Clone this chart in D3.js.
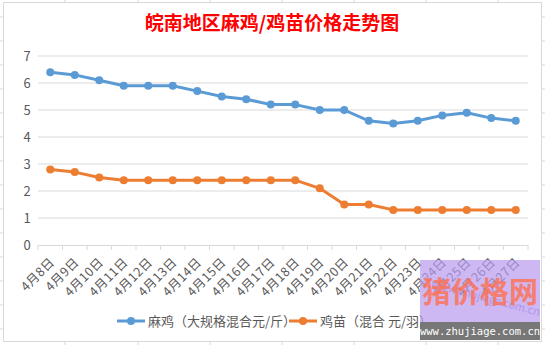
<!DOCTYPE html>
<html><head><meta charset="utf-8">
<script src="https://cdn.jsdelivr.net/npm/d3@7"></script>
<style>
body{margin:0;background:#fff;}
svg{display:block;}
</style></head>
<body>
<svg id="c" width="545" height="345"></svg>
<script>
const categories = ["4月8日","4月9日","4月10日","4月11日","4月12日","4月13日","4月14日","4月15日","4月16日","4月17日","4月18日","4月19日","4月20日","4月21日","4月22日","4月23日","4月24日","4月25日","4月26日","4月27日"];
const majiValues = [6.4,6.3,6.1,5.9,5.9,5.9,5.7,5.5,5.4,5.2,5.2,5.0,5.0,4.6,4.5,4.6,4.8,4.9,4.7,4.6];
const jimiaoValues = [2.8,2.7,2.5,2.4,2.4,2.4,2.4,2.4,2.4,2.4,2.4,2.1,1.5,1.5,1.3,1.3,1.3,1.3,1.3,1.3];
const seriesNames = ["麻鸡（大规格混合元/斤）","鸡苗（混合 元/羽）"];
const yTicks = [0,1,2,3,4,5,6,7];
const title = "皖南地区麻鸡/鸡苗价格走势图";

const svg = d3.select("#c");
const font = "'Noto Sans CJK SC','Liberation Sans',sans-serif";
const colors = ["#5B9BD5","#ED7D31"];
const grey = "#D9D9D9";

// spreadsheet background ticks
const cols = [65,138,210,282,354,426,498];
const rows = [17,41,65,89,113,137,161,185,209,233,257,281,305,329];
cols.forEach(x=>{
  svg.append("line").attr("x1",x).attr("x2",x).attr("y1",0).attr("y2",2).attr("stroke",grey);
  svg.append("line").attr("x1",x).attr("x2",x).attr("y1",342).attr("y2",345).attr("stroke",grey);
});
rows.forEach(y=>{
  svg.append("line").attr("x1",0).attr("x2",3).attr("y1",y).attr("y2",y).attr("stroke",grey);
  svg.append("line").attr("x1",542).attr("x2",545).attr("y1",y).attr("y2",y).attr("stroke",grey);
});
// chart frame
svg.append("rect").attr("x",3.5).attr("y",2.5).attr("width",538).attr("height",339)
  .attr("fill","#fff").attr("stroke",grey);

// title
svg.append("text").attr("x",272).attr("y",30).attr("text-anchor","middle")
  .attr("font-family",font).attr("font-size",19).attr("font-weight","bold")
  .attr("fill","#FF0000").text(title);

const x = d3.scaleBand().domain(categories).range([38,528]);
const y = d3.scaleLinear().domain([0,7]).range([245,56]);

// grid
const g = svg.append("g");
g.selectAll(".grid").data(yTicks.filter(d=>d>0)).join("line")
  .attr("x1",38).attr("x2",528).attr("y1",d=>y(d)).attr("y2",d=>y(d))
  .attr("stroke",grey).attr("stroke-width",1);

// y labels
g.selectAll(".yl").data(yTicks).join("text")
  .attr("x",27).attr("y",d=>y(d)+5).attr("text-anchor","middle")
  .attr("font-family",font).attr("font-size",13).attr("fill","#595959").text(d=>d);

// x axis
const xAxis = d3.axisBottom(x).tickSize(0).tickFormat("");
const ax = svg.append("g").attr("transform","translate(0,245)").call(xAxis);
ax.select(".domain").attr("stroke",grey);
const bounds = categories.map(c=>x(c)).concat([x.range()[1]]);
ax.selectAll(".tb").data(bounds).join("line")
  .attr("x1",d=>d).attr("x2",d=>d).attr("y1",0).attr("y2",5).attr("stroke",grey);
ax.selectAll(".xl").data(categories).join("text")
  .attr("transform",d=>`translate(${x(d)+x.bandwidth()/2+5},${18}) rotate(-45)`)
  .attr("text-anchor","end").attr("font-family",font).attr("font-size",12.5)
  .attr("letter-spacing",0.5)
  .attr("fill","#595959").text(d=>d);

// lines
const line = d3.line().x((d,i)=>x(categories[i])+x.bandwidth()/2).y(d=>y(d));
[majiValues,jimiaoValues].forEach((vals,k)=>{
  svg.append("path").datum(vals).attr("d",line).attr("fill","none")
    .attr("stroke",colors[k]).attr("stroke-width",3).attr("stroke-linejoin","round");
  svg.selectAll(".m"+k).data(vals).join("circle")
    .attr("cx",(d,i)=>x(categories[i])+x.bandwidth()/2).attr("cy",d=>y(d))
    .attr("r",4).attr("fill",colors[k]);
});

// legend
const legX = [117,289];
seriesNames.forEach((n,k)=>{
  const lg = svg.append("g").attr("transform",`translate(${legX[k]},321)`);
  lg.append("line").attr("x1",0).attr("x2",28).attr("y1",0).attr("y2",0)
    .attr("stroke",colors[k]).attr("stroke-width",3);
  lg.append("circle").attr("cx",14).attr("cy",0).attr("r",4).attr("fill",colors[k]);
  lg.append("text").attr("x",31).attr("y",5).attr("font-family",font)
    .attr("font-size",13).attr("fill","#595959").text(n);
});

// watermark
const wm = svg.append("g");
wm.append("rect").attr("x",420).attr("y",260).attr("width",120).attr("height",80)
  .attr("fill","#B89AF0").attr("opacity",0.7);
wm.append("text").attr("x",430).attr("y",300).attr("font-family",font).attr("font-size",11)
  .attr("fill","#9A80E0").attr("opacity",0.6).attr("transform","rotate(15,480,295)").text("www.zhujiage.com.cn");
wm.append("text").attr("x",480).attr("y",303).attr("text-anchor","middle")
  .attr("font-family",font).attr("font-size",29).attr("font-weight","bold")
  .attr("fill","#FF7050").attr("opacity",0.8).text("猪价格网");
wm.append("rect").attr("x",420).attr("y",322).attr("width",120).attr("height",18).attr("fill","#777");
wm.append("text").attr("x",480).attr("y",335).attr("text-anchor","middle")
  .attr("font-family","'DejaVu Sans Mono',monospace").attr("font-size",10.5)
  .attr("fill","#fff").text("www.zhujiage.com.cn");
</script>
</body></html>
